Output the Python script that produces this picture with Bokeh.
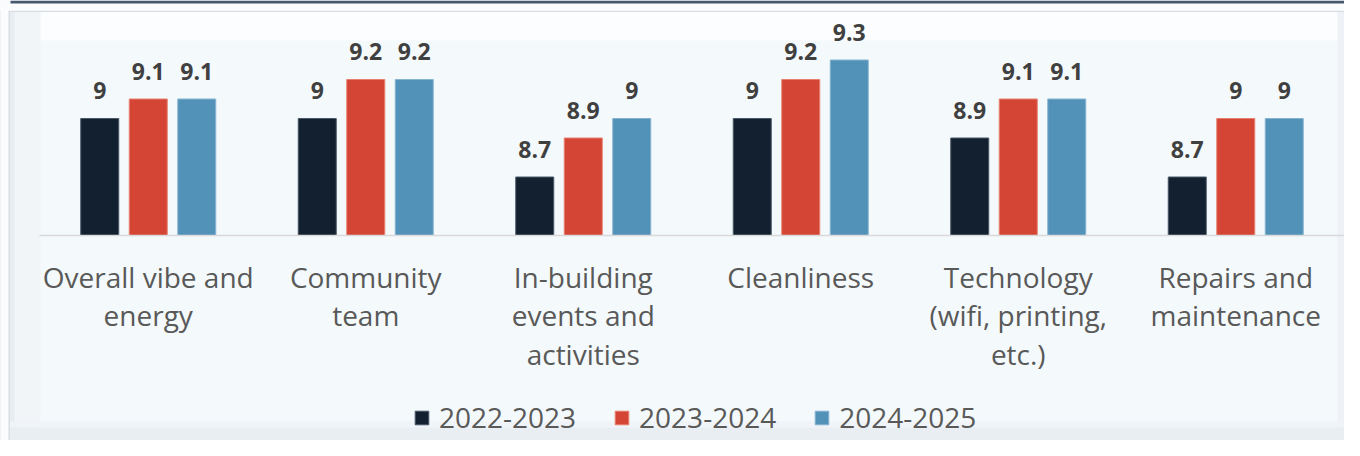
from bokeh.plotting import figure
from bokeh.models import ColumnDataSource, Range1d, BoxAnnotation, Legend, LegendItem
from bokeh.transform import dodge
from bokeh.core.properties import value
from bokeh.embed import file_html
from bokeh.resources import INLINE

# ---------------- data ----------------
categories = ["Overall vibe and energy", "Community team",
              "In-building events and activities", "Cleanliness",
              "Technology (wifi, printing, etc.)", "Repairs and maintenance"]
category_lines = [["Overall vibe and", "energy"],
                  ["Community", "team"],
                  ["In-building", "events and", "activities"],
                  ["Cleanliness"],
                  ["Technology", "(wifi, printing,", "etc.)"],
                  ["Repairs and", "maintenance"]]
series = ["2022-2023", "2023-2024", "2024-2025"]
values_2022_2023 = [9.0, 9.0, 8.7, 9.0, 8.9, 8.7]
values_2023_2024 = [9.1, 9.2, 8.9, 9.2, 9.1, 9.0]
values_2024_2025 = [9.1, 9.2, 9.0, 9.3, 9.1, 9.0]
axis_min = 8.4

# ---------------- layout ----------------
W, H = 1344, 440
CAT_PX = 217.5          # pixel width of one category
UNIT_PX = 195.0         # pixels per 1.0 of score
LEFT_PAD, RIGHT_PAD = 39, 0
TOP_PAD, BOTTOM_PAD = 235, 205   # px above / below the baseline
X0 = -LEFT_PAD / CAT_PX
X1 = len(categories) + RIGHT_PAD / CAT_PX
Y0 = axis_min - BOTTOM_PAD / UNIT_PX
Y1 = axis_min + TOP_PAD / UNIT_PX

def fx(px):   # figure pixel -> data x
    return X0 + px / W * (X1 - X0)

def fy(py):   # figure pixel (from top) -> data y
    return Y1 - py / H * (Y1 - Y0)

colors = ["#13202f", "#d44535", "#5292b8"]
edge_colors = ["#4a5868", "#e8806f", "#86b4d0"]
FONT = "Open Sans"

p = figure(width=W, height=H, x_range=Range1d(X0, X1), y_range=Range1d(Y0, Y1),
           x_axis_type=None, y_axis_type=None, toolbar_location=None,
           output_backend="svg", min_border=0, outline_line_color=None,
           background_fill_color="#f4f9fc", border_fill_color="#f4f9fc")

# ---------------- background frame / bevel ----------------
def box(l, r, t, b, color, alpha=1.0):
    p.add_layout(BoxAnnotation(left=None if l is None else fx(l),
                               right=None if r is None else fx(r),
                               top=None if t is None else fy(t),
                               bottom=None if b is None else fy(b),
                               fill_color=color, fill_alpha=alpha,
                               line_color=None, level="underlay"))

box(None, None, 11, 40, "#fbfdfe")           # lighter top bevel
box(None, 40, 11, None, "#f1f5f8")           # left bevel
box(None, 14, 11, None, "#e8edf2")
box(1337, None, 11, None, "#eef2f6")         # right bevel
box(None, None, 421, 427, "#f0f4f8")         # bottom bevel
box(None, None, 427, None, "#e9eef3")
box(None, 9.5, 10, None, "#d9dee3")          # panel left border
box(None, None, 10, 11.5, "#d9dee3")         # panel top border
box(None, 8, None, None, "#fbfcfd")          # outside page
box(None, None, None, 10, "#fbfcfd")
box(10, None, None, 3, "#46596e")            # navy band

# ---------------- bars ----------------
source = ColumnDataSource(dict(
    x=[i + 0.5 for i in range(len(categories))],
    v0=values_2022_2023, v1=values_2023_2024, v2=values_2024_2025,
    t0=[f"{v:g}" for v in values_2022_2023],
    t1=[f"{v:g}" for v in values_2023_2024],
    t2=[f"{v:g}" for v in values_2024_2025],
))

offsets = [-0.223, 0.0, 0.223]
bar_w = 38 / CAT_PX
renderers = []
for k, name in enumerate(series):
    r = p.vbar(x=dodge("x", offsets[k]), top=f"v{k}", bottom=axis_min, width=bar_w,
               source=source, fill_color=colors[k], line_color=edge_colors[k],
               line_width=1)
    renderers.append(r)
    p.text(x=dodge("x", offsets[k]), y=f"v{k}", text=f"t{k}", source=source,
           text_font=value(FONT), text_font_style="bold", text_font_size="23px",
           text_color="#404040", text_align="center", text_baseline="alphabetic",
           y_offset=-28)

# baseline
p.segment(x0=[0], x1=[len(categories)], y0=[axis_min], y1=[axis_min],
          line_color="#d9d9d9", line_width=1.5)

# ---------------- category labels ----------------
lx, lt, loff = [], [], []
for i, lines in enumerate(category_lines):
    for j, line in enumerate(lines):
        lx.append(i + 0.5)
        lt.append(line)
        loff.append(41 + 38.5 * j)
lab_src = ColumnDataSource(dict(x=lx, y=[axis_min] * len(lx), text=lt, off=loff))
p.text(x="x", y="y", text="text", y_offset="off", source=lab_src,
       text_font=value(FONT), text_font_size="28px", text_color="#595959",
       text_align="center", text_baseline="alphabetic")

# ---------------- legend ----------------
legend = Legend(items=[LegendItem(label=s, renderers=[r]) for s, r in zip(series, renderers)],
                orientation="horizontal", location=(413, 4),
                glyph_width=17, glyph_height=17, label_standoff=9, spacing=37,
                label_text_font=FONT, label_text_font_size="28px",
                label_text_color="#595959", padding=0, margin=0,
                background_fill_alpha=0, border_line_color=None)
p.add_layout(legend)

open("out.html", "w").write(file_html(p, INLINE))
